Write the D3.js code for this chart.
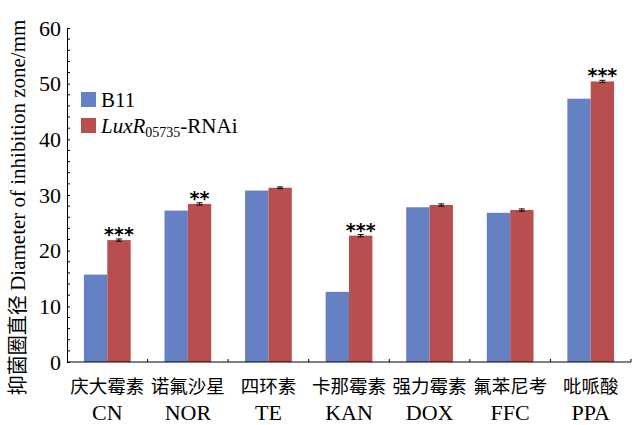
<!DOCTYPE html>
<html>
<head>
<meta charset="utf-8">
<script src="https://cdn.jsdelivr.net/npm/d3@7"></script>
<style>
  html, body { margin: 0; padding: 0; background: #fff; }
  svg { display: block; }
</style>
</head>
<body>
<svg id="chart" width="637" height="425"></svg>
<script>
// Antibiotic categories (Chinese name + abbreviation)
const categoriesCn = ["庆大霉素", "诺氟沙星", "四环素", "卡那霉素", "强力霉素", "氟苯尼考", "吡哌酸"];
const categoriesEn = ["CN", "NOR", "TE", "KAN", "DOX", "FFC", "PPA"];
const seriesNames = ["B11", "LuxR05735-RNAi"];
// Inhibition zone diameter (mm)
const valuesB11 = [15.7, 27.2, 30.8, 12.6, 27.8, 26.8, 47.3];
const valuesRNAi = [21.9, 28.4, 31.3, 22.7, 28.2, 27.3, 50.4];
const errorsRNAi = [0.2, 0.2, 0.15, 0.2, 0.2, 0.2, 0.2];
const significance = ["***", "**", "", "***", "", "", "***"];
const yTicks = [0, 10, 20, 30, 40, 50, 60];

const colors = ["#6680c4", "#b84e4d"];
const SERIF = "Liberation Serif";
const CJK = "Noto Sans CJK SC";

const svg = d3.select("#chart");
const margin = { left: 67, right: 6, top: 28, bottom: 63 };
const W = 637, H = 425;

const x = d3.scaleBand()
  .domain(categoriesEn)
  .range([margin.left, W - margin.right])
  .paddingInner(0.42)
  .paddingOuter(0.21);

const sub = d3.scaleBand().domain([0, 1]).range([0, x.bandwidth()]);

const y = d3.scaleLinear().domain([0, 60]).range([H - margin.bottom, margin.top]);

// Bars
const groups = svg.append("g").selectAll("g")
  .data(categoriesEn)
  .join("g")
  .attr("transform", d => `translate(${x(d)},0)`);

groups.append("rect")
  .attr("x", sub(0))
  .attr("width", sub.bandwidth())
  .attr("y", (d, i) => y(valuesB11[i]))
  .attr("height", (d, i) => y(0) - y(valuesB11[i]))
  .attr("fill", colors[0]);

groups.append("rect")
  .attr("x", sub(1))
  .attr("width", sub.bandwidth())
  .attr("y", (d, i) => y(valuesRNAi[i]))
  .attr("height", (d, i) => y(0) - y(valuesRNAi[i]))
  .attr("fill", colors[1]);

// Error bars on the RNAi series
const eb = groups.append("g").attr("stroke", "#000").attr("stroke-width", 1);
const cx = sub(1) + sub.bandwidth() / 2;
eb.append("line")
  .attr("x1", cx).attr("x2", cx)
  .attr("y1", (d, i) => y(valuesRNAi[i] + errorsRNAi[i]))
  .attr("y2", (d, i) => y(valuesRNAi[i] - errorsRNAi[i]));
eb.append("line")
  .attr("x1", cx - 3).attr("x2", cx + 3)
  .attr("y1", (d, i) => y(valuesRNAi[i] + errorsRNAi[i]))
  .attr("y2", (d, i) => y(valuesRNAi[i] + errorsRNAi[i]));
eb.append("line")
  .attr("x1", cx - 3).attr("x2", cx + 3)
  .attr("y1", (d, i) => y(valuesRNAi[i] - errorsRNAi[i]))
  .attr("y2", (d, i) => y(valuesRNAi[i] - errorsRNAi[i]));

// Significance stars
groups.append("text")
  .attr("x", cx)
  .attr("y", (d, i) => y(valuesRNAi[i]) + 1)
  .attr("text-anchor", "middle")
  .attr("font-family", "DejaVu Sans")
  .attr("font-size", 19)
  .attr("font-weight", "bold")
  .text((d, i) => significance[i]);

// Y axis
const yAxis = d3.axisLeft(y).tickValues(yTicks).tickSize(-3).tickPadding(6);
const gy = svg.append("g").attr("transform", `translate(${margin.left},0)`).call(yAxis);
gy.attr("font-family", SERIF).attr("font-size", 22);
gy.select(".domain").attr("stroke", "#000");
gy.selectAll(".tick text").attr("fill", "#000");
// minor ticks
const minor = d3.range(0, 61, 2).filter(v => v % 10 !== 0);
svg.append("g").selectAll("line").data(minor).join("line")
  .attr("x1", margin.left).attr("x2", margin.left + 3)
  .attr("y1", d => y(d)).attr("y2", d => y(d))
  .attr("stroke", "#000");

// X axis with ticks between groups
const xAxisY = y(0);
svg.append("line")
  .attr("x1", margin.left).attr("x2", W - margin.right)
  .attr("y1", xAxisY).attr("y2", xAxisY)
  .attr("stroke", "#000");
const [x0, x1] = x.range();
const boundaries = d3.range(1, categoriesEn.length + 1).map(i => x0 + i * (x1 - x0) / categoriesEn.length);
svg.append("g").selectAll("line").data(boundaries).join("line")
  .attr("x1", d => d).attr("x2", d => d)
  .attr("y1", xAxisY).attr("y2", xAxisY - 3)
  .attr("stroke", "#000");

// Category labels
const labels = svg.append("g").selectAll("g").data(categoriesEn).join("g")
  .attr("transform", d => `translate(${x(d) + x.bandwidth() / 2},0)`);
labels.append("text")
  .attr("y", 393)
  .attr("text-anchor", "middle")
  .attr("font-family", CJK)
  .attr("font-size", 18.5)
  .text((d, i) => categoriesCn[i]);
labels.append("text")
  .attr("y", 420)
  .attr("text-anchor", "middle")
  .attr("font-family", SERIF)
  .attr("font-size", 22)
  .text(d => d);

// Y axis title
const yt = svg.append("text")
  .attr("transform", `translate(25,${(10 + 405) / 2}) rotate(-90)`)
  .attr("text-anchor", "middle")
  .attr("font-size", 21);
yt.append("tspan").attr("font-family", CJK).attr("font-size", 20).text("抑菌圈直径 ");
yt.append("tspan").attr("font-family", SERIF).text("Diameter of inhibition zone/mm");

// Legend
const legend = svg.append("g").attr("transform", "translate(81,92)")
  .attr("font-family", SERIF).attr("font-size", 21);
legend.append("rect").attr("x", 0).attr("y", 0).attr("width", 15).attr("height", 15).attr("fill", colors[0]);
legend.append("rect").attr("x", 0).attr("y", 26).attr("width", 15).attr("height", 15).attr("fill", colors[1]);
legend.append("text").attr("x", 20).attr("y", 15).text(seriesNames[0]);
const lt = legend.append("text").attr("x", 20).attr("y", 41);
lt.append("tspan").attr("font-style", "italic").text("LuxR");
lt.append("tspan").attr("dy", 4).attr("font-size", 14).text("05735");
lt.append("tspan").attr("dy", -4).text("-RNAi");
</script>
</body>
</html>
